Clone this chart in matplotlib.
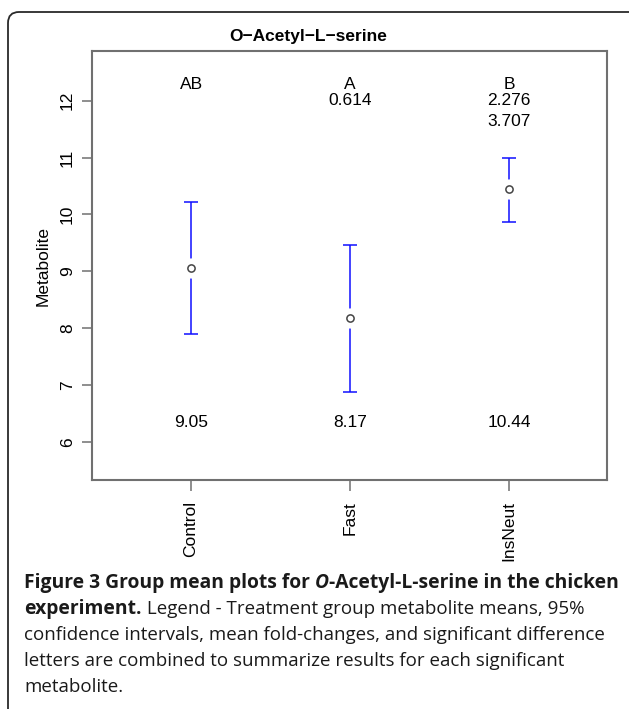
import matplotlib
matplotlib.use("Agg")
import matplotlib.pyplot as plt
import matplotlib.patches as mpatches
from matplotlib.transforms import IdentityTransform

# data
groups = ['Control', 'Fast', 'InsNeut']
means = [9.05, 8.17, 10.44]
ci_low = [7.90, 6.88, 9.87]
ci_high = [10.21, 9.47, 11.00]
letters = ['AB', 'A', 'B']
fold_changes = [[], ['0.614'], ['2.276', '3.707']]
mean_labels = ['9.05', '8.17', '10.44']
yticks = [6, 7, 8, 9, 10, 11, 12]

W, H = 629, 709
DPI = 100
plot_font = 'Liberation Sans'
cap_font = 'Open Sans'

fig = plt.figure(figsize=(W / DPI, H / DPI), dpi=DPI)

def px(x0, y0, x1, y1):
    # pixel box (top-left origin) -> figure fraction rect
    return [x0 / W, 1 - y1 / H, (x1 - x0) / W, (y1 - y0) / H]

ax = fig.add_axes(px(92, 51, 607, 480))
xs = list(range(1, len(groups) + 1))

ax.errorbar(xs, means,
            yerr=[[m - l for m, l in zip(means, ci_low)],
                  [h - m for m, h in zip(means, ci_high)]],
            fmt='none', ecolor='#1010ff', elinewidth=1.1, capsize=5, capthick=1.1, zorder=2)
# white gap around the mean point, then the point itself
ax.plot(xs, means, 'o', ms=14.5, mfc='white', mec='none', zorder=3)
ax.plot(xs, means, 'o', ms=5.2, mfc='white', mec='#444444', mew=1.1, zorder=4)

fs = 12.5
for i, x in enumerate(xs):
    ax.text(x, 12.28, letters[i], ha='center', va='center', fontsize=fs, family=plot_font)
    for j, fc in enumerate(fold_changes[i]):
        ax.text(x, 12.0 - 0.36 * j, fc, ha='center', va='center', fontsize=fs, family=plot_font)
    ax.text(x, 6.33, mean_labels[i], ha='center', va='center', fontsize=fs, family=plot_font)

ax.set_xlim(0.377, 3.616)
ax.set_ylim(5.326, 12.875)
ax.set_xticks(xs)
ax.set_xticklabels(groups, rotation=90, va='top', ha='center', fontsize=fs, family=plot_font)
ax.set_yticks(yticks)
ax.set_yticklabels([str(t) for t in yticks], rotation=90, va='center', fontsize=fs, family=plot_font)
ax.tick_params(axis='x', length=8, width=1.1, color='#707070', pad=7)
ax.tick_params(axis='y', length=7.2, width=1.1, color='#707070', pad=5)
for s in ax.spines.values():
    s.set_color('#707070')
    s.set_linewidth(1.5)

fig.text(43 / W, 1 - 266 / H, 'Metabolite', rotation=90, ha='center', va='center',
         fontsize=fs, family=plot_font)
fig.text(308 / W, 1 - 37 / H, 'O\u2212Acetyl\u2212L\u2212serine', ha='center', va='center',
         fontsize=fs, fontweight='bold', family=plot_font)

# rounded frame round the figure + caption
frame = mpatches.FancyBboxPatch((8, -30), 640, H - 12 + 30,
                                boxstyle='round,pad=0,rounding_size=11',
                                transform=IdentityTransform(), fill=False,
                                edgecolor='#2a2a2a', linewidth=1.3)
fig.patches.append(frame)

# caption, drawn as runs of text with different weights
caption = [
    [('Figure 3 Group mean plots for ', 'bold', 'normal'), ('O', 'bold', 'italic'),
     ('-Acetyl-L-serine in the chicken', 'bold', 'normal')],
    [('experiment.', 'bold', 'normal'),
     (' Legend - Treatment group metabolite means, 95%', 'normal', 'normal')],
    [('confidence intervals, mean fold-changes, and significant difference', 'normal', 'normal')],
    [('letters are combined to summarize results for each significant', 'normal', 'normal')],
    [('metabolite.', 'normal', 'normal')],
]
renderer = fig.canvas.get_renderer()

def run_width(runs, size):
    w = 0
    for txt, weight, style in runs:
        t = fig.text(0, 0, txt, fontsize=size, fontweight=weight, fontstyle=style, family=cap_font)
        w += t.get_window_extent(renderer).width
        t.remove()
    return w

# size the caption so lines span the same widths as in the reference
reg_fs = 10 * 584 / run_width(caption[2], 10)
bold_fs = 10 * 594 / run_width(caption[0], 10)

y0 = 583
for k, line in enumerate(caption):
    x = 24
    y = H - (y0 + 26 * k)
    for txt, weight, style in line:
        size = bold_fs if weight == 'bold' else reg_fs
        t = fig.text(x / W, y / H, txt, fontsize=size, fontweight=weight, fontstyle=style,
                     family=cap_font, color='#1a1a1a', ha='left', va='center')
        x += t.get_window_extent(renderer).width

fig.savefig('out.png', dpi=DPI)
